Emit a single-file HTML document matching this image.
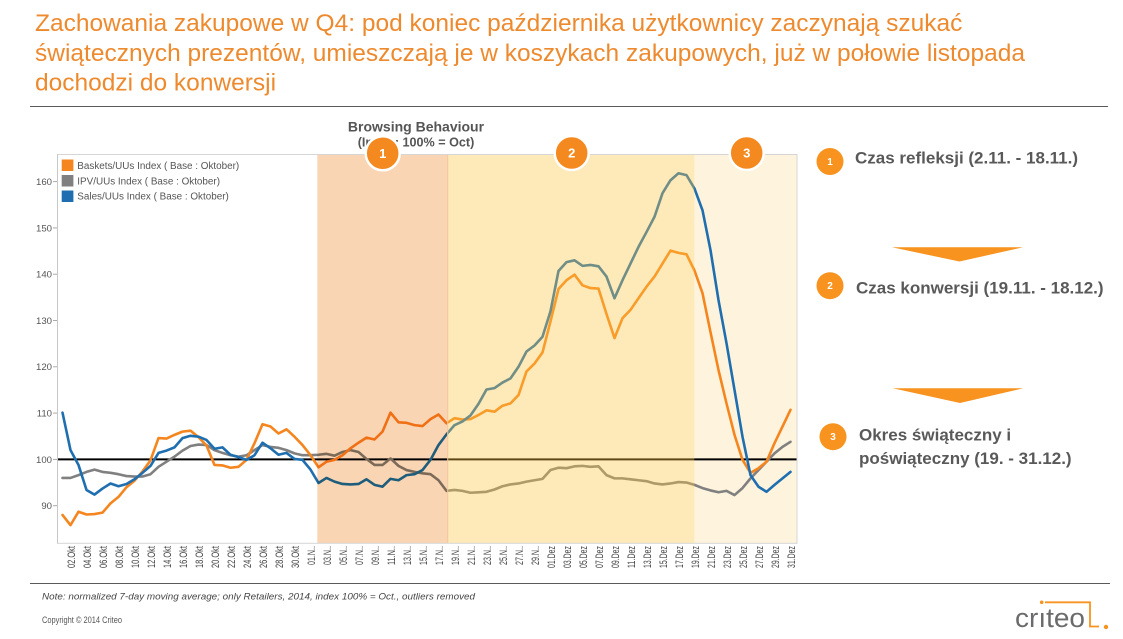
<!DOCTYPE html>
<html>
<head>
<meta charset="utf-8">
<style>
  html,body{margin:0;padding:0;background:#fff;}
  body{width:1123px;height:639px;overflow:hidden;position:relative;}
  svg{position:absolute;left:0;top:0;}
  text{font-family:"Liberation Sans","Noto Sans CJK SC",sans-serif;}
</style>
</head>
<body>
<svg width="1123" height="639" viewBox="0 0 1123 639" xmlns="http://www.w3.org/2000/svg">
  <!-- Title -->
  <g fill="#EE8A2E" font-size="24.5">
    <text x="35" y="31">Zachowania zakupowe w Q4: pod koniec października użytkownicy zaczynają szukać</text>
    <text x="35" y="61">świątecznych prezentów, umieszczają je w koszykach zakupowych, już w połowie listopada</text>
    <text x="35" y="90.5">dochodzi do konwersji</text>
  </g>
  <line x1="30" y1="106.5" x2="1108" y2="106.5" stroke="#5a5a5a" stroke-width="1"/>

  <!-- Chart title -->
  <text x="416" y="131.7" font-size="14" font-weight="bold" fill="#555" text-anchor="middle">Browsing Behaviour</text>
  <text x="416" y="146.5" font-size="12.6" font-weight="bold" fill="#555" text-anchor="middle">(Index: 100% = Oct)</text>

  <!-- Region 3 background -->
  <rect x="694.3" y="154.3" width="102.4" height="389" fill="#FEF3DD"/>

  <!-- 100 line -->
  <line x1="57" y1="459.4" x2="797" y2="459.4" stroke="#000" stroke-width="2"/>

  <!-- Series -->
  <g transform="translate(62.5 459.4) scale(8 -4.63)" fill="none" stroke-linejoin="round" stroke-linecap="round">
    <polyline vector-effect="non-scaling-stroke" stroke="#808080" stroke-width="2.6" points="0,-4 1,-4 2,-3.4 3,-2.7 4,-2.2 5,-2.7 6,-2.9 7,-3.2 8,-3.6 9,-3.7 10,-3.7 11,-3.2 12,-1.6 13,-0.5 14,0.6 15,1.9 16,2.9 17,3.2 18,3.1 19,2 20,1.4 21,0.9 22,0.6 23,0.9 24,2 25,3.1 26,2.7 27,2.5 28,2 29,1.3 30,0.9 31,0.9 32,1 33,1.2 34,0.8 35,1.6 36,2 37,1.6 38,0.1 39,-1.2 40,-1.2 41,0.2 42,-1.4 43,-2.3 44,-2.7 45,-3 46,-3.2 47,-4.5 48,-6.8 49,-6.6 50,-6.8 51,-7.2 52,-7.1 53,-7 54,-6.5 55,-5.8 56,-5.4 57,-5.2 58,-4.8 59,-4.5 60,-4.2 61,-2.3 62,-1.8 63,-1.9 64,-1.5 65,-1.4 66,-1.6 67,-1.5 68,-3.4 69,-4.1 70,-4.1 71,-4.3 72,-4.5 73,-4.7 74,-5.2 75,-5.4 76,-5.2 77,-4.9 78,-5 79,-5.5 80,-6.2 81,-6.7 82,-7.1 83,-6.8 84,-7.7 85,-6.2 86,-4.1 87,-2.3 88,-0.5 89,1.3 90,2.7 91,3.8"/>
    <polyline vector-effect="non-scaling-stroke" stroke="#F5861F" stroke-width="2.6" points="0,-12 1,-14.2 2,-11.3 3,-11.9 4,-11.8 5,-11.5 6,-9.5 7,-8.1 8,-6 9,-4.6 10,-2.6 11,-0.2 12,4.6 13,4.5 14,5.3 15,6 16,6.2 17,4.8 18,3 19,-1.2 20,-1.3 21,-1.8 22,-1.6 23,-0.1 24,3.5 25,7.6 26,7.1 27,5.6 28,6.5 29,4.9 30,3.1 31,0.9 32,-1.7 33,-0.5 34,-0.1 35,0.9 36,2.4 37,3.6 38,4.7 39,4.3 40,6 41,10.1 42,8 43,7.9 44,7.4 45,7.2 46,8.7 47,9.7 48,7.8 49,8.9 50,8.6 51,8.7 52,9.6 53,10.6 54,10.3 55,11.6 56,12.1 57,13.9 58,19 59,20.7 60,23.1 61,29.8 62,36.8 63,38.7 64,39.9 65,37.6 66,37 67,36.9 68,31.4 69,26.2 70,30.5 71,32.3 72,34.8 73,37.3 74,39.5 75,42.3 76,45.1 77,44.6 78,44.3 79,40.8 80,35.9 81,27.5 82,19.3 83,12.1 84,5.3 85,-0.1 86,-2.9 87,-1.9 88,-0.5 89,3.5 90,7.1 91,10.7"/>
    <polyline vector-effect="non-scaling-stroke" stroke="#1F6FB0" stroke-width="2.6" points="0,10.1 1,2 2,-1.2 3,-6.6 4,-7.6 5,-6.3 6,-5.2 7,-5.8 8,-5.3 9,-4.3 10,-2.9 11,-1.4 12,1.4 13,1.9 14,2.6 15,4.6 16,5.1 17,4.9 18,4.2 19,2.3 20,2.6 21,1 22,0.5 23,-0.1 24,0.9 25,3.6 26,2.4 27,1 28,1.4 29,0.1 30,-0.1 31,-2.2 32,-5.1 33,-4 34,-4.8 35,-5.3 36,-5.4 37,-5.3 38,-4.3 39,-5.5 40,-5.9 41,-4.2 42,-4.5 43,-3.4 44,-3.2 45,-2.3 46,-0.1 47,3.1 48,5.4 49,7.4 50,8.2 51,9.5 52,12 53,15.1 54,15.4 55,16.6 56,17.5 57,20 58,23.3 59,24.6 60,26.5 61,32 62,40.7 63,42.6 64,43 65,41.8 66,42 67,41.7 68,39.5 69,34.8 70,38.7 71,42.3 72,45.9 73,49.1 74,52.4 75,57.5 76,60.3 77,61.8 78,61.4 79,58.5 80,53.8 81,45.2 82,34.4 83,25.1 84,15 85,4.9 86,-3.4 87,-5.9 88,-7 89,-5.5 90,-4.1 91,-2.7"/>
  </g>

  <!-- Region overlays -->
  <rect x="317.3" y="154.3" width="130.4" height="389" fill="#FAD5B3" style="mix-blend-mode:multiply"/>
  <rect x="447.7" y="154.3" width="246.6" height="389" fill="#FCC33F" fill-opacity="0.37"/>
  <line x1="447.7" y1="154.3" x2="447.7" y2="543.3" stroke="#F6C89A" stroke-width="1"/>

  <!-- Frame -->
  <rect x="57.5" y="154.5" width="739.5" height="388.8" fill="none" stroke="#D6D6D6" stroke-width="1"/>
  <line x1="57.5" y1="154" x2="57.5" y2="543.5" stroke="#C8C8C8" stroke-width="1"/>

  <!-- Y axis -->
  <g font-size="9.6" fill="#555" text-anchor="end">
    <text x="52" y="185">160</text>
    <text x="52" y="231.3">150</text>
    <text x="52" y="277.6">140</text>
    <text x="52" y="323.9">130</text>
    <text x="52" y="370.2">120</text>
    <text x="52" y="416.5">110</text>
    <text x="52" y="462.8">100</text>
    <text x="52" y="509.1">90</text>
  </g>
  <g stroke="#AAA" stroke-width="1">
    <line x1="53" y1="181.6" x2="57" y2="181.6"/>
    <line x1="53" y1="227.9" x2="57" y2="227.9"/>
    <line x1="53" y1="274.2" x2="57" y2="274.2"/>
    <line x1="53" y1="320.5" x2="57" y2="320.5"/>
    <line x1="53" y1="366.8" x2="57" y2="366.8"/>
    <line x1="53" y1="413.1" x2="57" y2="413.1"/>
    <line x1="53" y1="459.4" x2="57" y2="459.4"/>
    <line x1="53" y1="505.7" x2="57" y2="505.7"/>
  </g>

  <!-- X axis labels -->
  <g font-size="10.8" fill="#444" text-anchor="end">
    <text transform="translate(74.8 546) rotate(-90)" textLength="22" lengthAdjust="spacingAndGlyphs">02.Okt</text>
    <text transform="translate(90.8 546) rotate(-90)" textLength="22" lengthAdjust="spacingAndGlyphs">04.Okt</text>
    <text transform="translate(106.8 546) rotate(-90)" textLength="22" lengthAdjust="spacingAndGlyphs">06.Okt</text>
    <text transform="translate(122.8 546) rotate(-90)" textLength="22" lengthAdjust="spacingAndGlyphs">08.Okt</text>
    <text transform="translate(138.8 546) rotate(-90)" textLength="22" lengthAdjust="spacingAndGlyphs">10.Okt</text>
    <text transform="translate(154.8 546) rotate(-90)" textLength="22" lengthAdjust="spacingAndGlyphs">12.Okt</text>
    <text transform="translate(170.8 546) rotate(-90)" textLength="22" lengthAdjust="spacingAndGlyphs">14.Okt</text>
    <text transform="translate(186.8 546) rotate(-90)" textLength="22" lengthAdjust="spacingAndGlyphs">16.Okt</text>
    <text transform="translate(202.8 546) rotate(-90)" textLength="22" lengthAdjust="spacingAndGlyphs">18.Okt</text>
    <text transform="translate(218.8 546) rotate(-90)" textLength="22" lengthAdjust="spacingAndGlyphs">20.Okt</text>
    <text transform="translate(234.8 546) rotate(-90)" textLength="22" lengthAdjust="spacingAndGlyphs">22.Okt</text>
    <text transform="translate(250.8 546) rotate(-90)" textLength="22" lengthAdjust="spacingAndGlyphs">24.Okt</text>
    <text transform="translate(266.8 546) rotate(-90)" textLength="22" lengthAdjust="spacingAndGlyphs">26.Okt</text>
    <text transform="translate(282.8 546) rotate(-90)" textLength="22" lengthAdjust="spacingAndGlyphs">28.Okt</text>
    <text transform="translate(298.8 546) rotate(-90)" textLength="22" lengthAdjust="spacingAndGlyphs">30.Okt</text>
    <text transform="translate(314.8 546) rotate(-90)" textLength="19" lengthAdjust="spacingAndGlyphs">01.N..</text>
    <text transform="translate(330.8 546) rotate(-90)" textLength="19" lengthAdjust="spacingAndGlyphs">03.N..</text>
    <text transform="translate(346.8 546) rotate(-90)" textLength="19" lengthAdjust="spacingAndGlyphs">05.N..</text>
    <text transform="translate(362.8 546) rotate(-90)" textLength="19" lengthAdjust="spacingAndGlyphs">07.N..</text>
    <text transform="translate(378.8 546) rotate(-90)" textLength="19" lengthAdjust="spacingAndGlyphs">09.N..</text>
    <text transform="translate(394.8 546) rotate(-90)" textLength="19" lengthAdjust="spacingAndGlyphs">11.N..</text>
    <text transform="translate(410.8 546) rotate(-90)" textLength="19" lengthAdjust="spacingAndGlyphs">13.N..</text>
    <text transform="translate(426.8 546) rotate(-90)" textLength="19" lengthAdjust="spacingAndGlyphs">15.N..</text>
    <text transform="translate(442.8 546) rotate(-90)" textLength="19" lengthAdjust="spacingAndGlyphs">17.N..</text>
    <text transform="translate(458.8 546) rotate(-90)" textLength="19" lengthAdjust="spacingAndGlyphs">19.N..</text>
    <text transform="translate(474.8 546) rotate(-90)" textLength="19" lengthAdjust="spacingAndGlyphs">21.N..</text>
    <text transform="translate(490.8 546) rotate(-90)" textLength="19" lengthAdjust="spacingAndGlyphs">23.N..</text>
    <text transform="translate(506.8 546) rotate(-90)" textLength="19" lengthAdjust="spacingAndGlyphs">25.N..</text>
    <text transform="translate(522.8 546) rotate(-90)" textLength="19" lengthAdjust="spacingAndGlyphs">27.N..</text>
    <text transform="translate(538.8 546) rotate(-90)" textLength="19" lengthAdjust="spacingAndGlyphs">29.N..</text>
    <text transform="translate(554.8 546) rotate(-90)" textLength="22" lengthAdjust="spacingAndGlyphs">01.Dez</text>
    <text transform="translate(570.8 546) rotate(-90)" textLength="22" lengthAdjust="spacingAndGlyphs">03.Dez</text>
    <text transform="translate(586.8 546) rotate(-90)" textLength="22" lengthAdjust="spacingAndGlyphs">05.Dez</text>
    <text transform="translate(602.8 546) rotate(-90)" textLength="22" lengthAdjust="spacingAndGlyphs">07.Dez</text>
    <text transform="translate(618.8 546) rotate(-90)" textLength="22" lengthAdjust="spacingAndGlyphs">09.Dez</text>
    <text transform="translate(634.8 546) rotate(-90)" textLength="22" lengthAdjust="spacingAndGlyphs">11.Dez</text>
    <text transform="translate(650.8 546) rotate(-90)" textLength="22" lengthAdjust="spacingAndGlyphs">13.Dez</text>
    <text transform="translate(666.8 546) rotate(-90)" textLength="22" lengthAdjust="spacingAndGlyphs">15.Dez</text>
    <text transform="translate(682.8 546) rotate(-90)" textLength="22" lengthAdjust="spacingAndGlyphs">17.Dez</text>
    <text transform="translate(698.8 546) rotate(-90)" textLength="22" lengthAdjust="spacingAndGlyphs">19.Dez</text>
    <text transform="translate(714.8 546) rotate(-90)" textLength="22" lengthAdjust="spacingAndGlyphs">21.Dez</text>
    <text transform="translate(730.8 546) rotate(-90)" textLength="22" lengthAdjust="spacingAndGlyphs">23.Dez</text>
    <text transform="translate(746.8 546) rotate(-90)" textLength="22" lengthAdjust="spacingAndGlyphs">25.Dez</text>
    <text transform="translate(762.8 546) rotate(-90)" textLength="22" lengthAdjust="spacingAndGlyphs">27.Dez</text>
    <text transform="translate(778.8 546) rotate(-90)" textLength="22" lengthAdjust="spacingAndGlyphs">29.Dez</text>
    <text transform="translate(794.8 546) rotate(-90)" textLength="22" lengthAdjust="spacingAndGlyphs">31.Dez</text>
  </g>

  <!-- Legend -->
  <rect x="61.7" y="159.5" width="11.7" height="11.5" fill="#F5861F"/>
  <rect x="61.7" y="175" width="11.7" height="11.5" fill="#808080"/>
  <rect x="61.7" y="190.5" width="11.7" height="11.5" fill="#1F6FB0"/>
  <g font-size="9.9" fill="#555">
    <text x="77.3" y="169">Baskets/UUs Index ( Base : Oktober)</text>
    <text x="77.3" y="184.3">IPV/UUs Index ( Base : Oktober)</text>
    <text x="77.3" y="199.6">Sales/UUs Index ( Base : Oktober)</text>
  </g>

  <!-- Chart badges -->
  <g stroke="#fff" stroke-width="2.5" fill="#F4891F">
    <circle cx="382.7" cy="153.3" r="17"/>
    <circle cx="571.7" cy="153" r="17"/>
    <circle cx="746.7" cy="153" r="17"/>
  </g>
  <g font-size="13" font-weight="bold" fill="#fff" text-anchor="middle">
    <text x="382.7" y="158">1</text>
    <text x="571.7" y="157.7">2</text>
    <text x="746.7" y="157.7">3</text>
  </g>

  <!-- Right panel -->
  <g fill="#F7931E">
    <circle cx="830" cy="161.5" r="13.5"/>
    <circle cx="830" cy="285.7" r="13.5"/>
    <circle cx="833" cy="436.7" r="13.5"/>
    <polygon points="892,247.3 1023,247.3 959.5,261.5"/>
    <polygon points="892.7,388.3 1023.3,388.3 960,403"/>
  </g>
  <g font-size="10" font-weight="bold" fill="#fff" text-anchor="middle">
    <text x="830" y="165">1</text>
    <text x="830" y="289.2">2</text>
    <text x="833" y="440.2">3</text>
  </g>
  <g font-size="17" font-weight="bold" fill="#595959">
    <text x="855" y="163.3">Czas refleksji (2.11. - 18.11.)</text>
    <text x="856" y="293.3">Czas konwersji (19.11. - 18.12.)</text>
    <text x="859" y="440.5">Okres świąteczny i</text>
    <text x="859" y="463.8">poświąteczny (19. - 31.12.)</text>
  </g>

  <!-- Footer -->
  <line x1="30" y1="583.5" x2="1110" y2="583.5" stroke="#5a5a5a" stroke-width="1"/>
  <text x="42" y="599.5" font-size="9" font-style="italic" fill="#444" textLength="433" lengthAdjust="spacingAndGlyphs">Note: normalized 7-day moving average; only Retailers, 2014, index 100% = Oct., outliers removed</text>
  <text x="42" y="623" font-size="8.8" fill="#555" textLength="80" lengthAdjust="spacingAndGlyphs">Copyright © 2014 Criteo</text>

  <!-- Logo -->
  <text x="1015" y="627" font-size="27" fill="#6b6b6d" textLength="70" lengthAdjust="spacingAndGlyphs">crıteo</text>
  <circle cx="1041.7" cy="602.3" r="1.8" fill="#F7931E"/>
  <path d="M1045,602.3 H1090 V626.5 H1099" fill="none" stroke="#F7931E" stroke-width="1.8"/>
  <circle cx="1106" cy="627" r="2.2" fill="#F7931E"/>
</svg>
</body>
</html>
